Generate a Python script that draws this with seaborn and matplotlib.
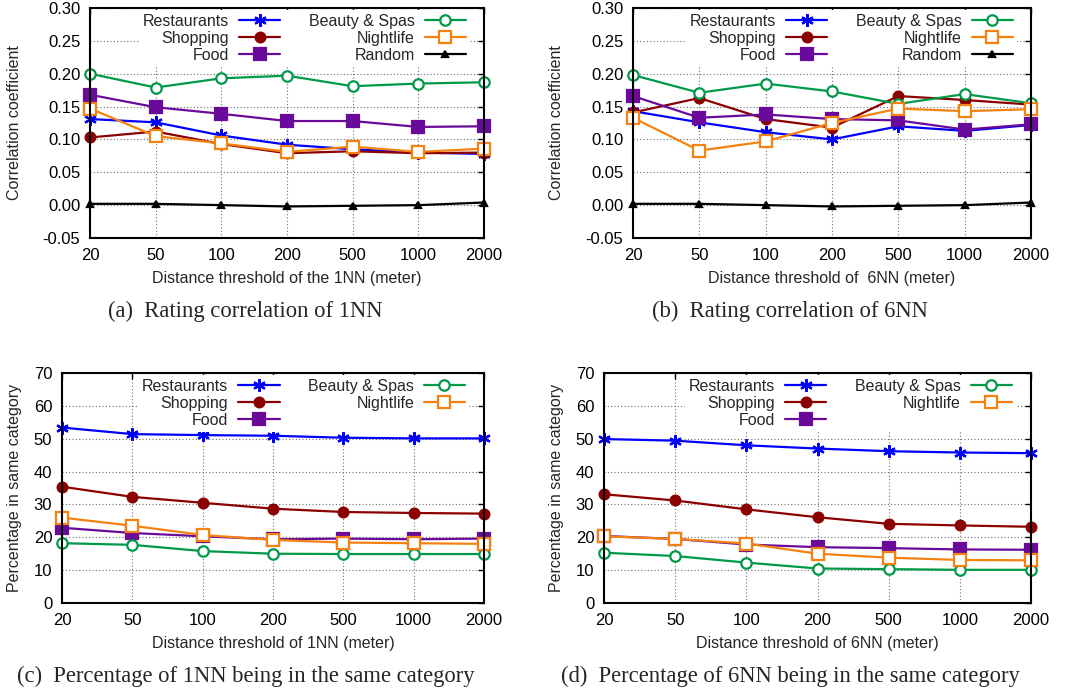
import matplotlib
matplotlib.use("Agg")
import matplotlib.pyplot as plt
import numpy as np
import seaborn as sns

# distance thresholds (meter)
thresholds = [20, 50, 100, 200, 500, 1000, 2000]

# (a) rating correlation of 1NN
a_restaurants = [0.131, 0.126, 0.106, 0.092, 0.085, 0.080, 0.078]
a_shopping = [0.103, 0.112, 0.093, 0.079, 0.082, 0.079, 0.080]
a_food = [0.168, 0.149, 0.139, 0.128, 0.128, 0.119, 0.120]
a_beauty = [0.200, 0.179, 0.193, 0.197, 0.181, 0.185, 0.187]
a_nightlife = [0.147, 0.105, 0.094, 0.081, 0.089, 0.081, 0.086]
a_random = [0.002, 0.002, 0.000, -0.002, -0.001, 0.000, 0.004]

# (b) rating correlation of 6NN
b_restaurants = [0.143, 0.126, 0.111, 0.100, 0.120, 0.113, 0.122]
b_shopping = [0.141, 0.163, 0.131, 0.118, 0.166, 0.160, 0.153]
b_food = [0.166, 0.133, 0.138, 0.131, 0.129, 0.115, 0.123]
b_beauty = [0.198, 0.171, 0.185, 0.173, 0.154, 0.169, 0.155]
b_nightlife = [0.133, 0.083, 0.097, 0.125, 0.147, 0.143, 0.146]
b_random = [0.002, 0.002, 0.000, -0.002, -0.001, 0.000, 0.004]

# (c) percentage of 1NN in same category
c_restaurants = [53.4, 51.4, 51.1, 50.9, 50.3, 50.1, 50.1]
c_shopping = [35.4, 32.3, 30.5, 28.7, 27.7, 27.4, 27.2]
c_food = [22.9, 21.3, 20.3, 19.4, 19.6, 19.4, 19.6]
c_beauty = [18.2, 17.7, 15.8, 15.0, 14.9, 14.9, 14.9]
c_nightlife = [26.0, 23.5, 20.7, 19.2, 18.4, 18.2, 18.0]

# (d) percentage of 6NN in same category
d_restaurants = [49.9, 49.4, 48.0, 47.0, 46.2, 45.8, 45.6]
d_shopping = [33.1, 31.2, 28.5, 26.1, 24.1, 23.6, 23.2]
d_food = [20.4, 19.5, 17.8, 17.0, 16.7, 16.3, 16.2]
d_beauty = [15.3, 14.3, 12.3, 10.5, 10.3, 10.1, 10.1]
d_nightlife = [20.3, 19.5, 18.1, 15.0, 13.8, 13.1, 13.0]

names = ["Restaurants", "Shopping", "Food", "Beauty & Spas", "Nightlife", "Random"]
colors = ["#0000ff", "#8b0000", "#6a0a9a", "#00994a", "#f58210", "#000000"]
markers = [(6, 2, 0), "o", "s", "o", "s", "^"]
msizes = [9, 7, 8, 7.5, 8, 5]
filled = [True, True, True, False, False, True]

sns.set_style("white")
plt.rcParams["font.family"] = ["Liberation Sans", "DejaVu Sans"]

fig = plt.figure(figsize=(10.65, 6.91), dpi=100)


def panel(rect, series, ylim, yticks, yfmt, ylabel, ylab_x, xlabel, caption, cap_xy):
    ax = fig.add_axes(rect)
    xpos = np.arange(len(thresholds))
    for i, vals in enumerate(series):
        sns.lineplot(x=xpos, y=vals, ax=ax, color=colors[i], marker=markers[i],
                     markersize=msizes[i], linewidth=1.6,
                     markerfacecolor=colors[i] if filled[i] else "white",
                     markeredgecolor=colors[i], markeredgewidth=1.6,
                     label=names[i], zorder=3, clip_on=False)
    ax.set_xlim(0, len(thresholds) - 1)
    ax.set_ylim(*ylim)
    ax.set_xticks(xpos)
    ax.set_xticklabels([str(t) for t in thresholds])
    ax.set_yticks(yticks)
    ax.set_yticklabels([yfmt.format(v) for v in yticks])
    ax.tick_params(direction="in", length=4, width=1, top=True, right=True,
                   labelsize=12, colors="black", pad=7)
    ax.grid(True, color="#707070", linestyle=(0, (1, 2)), linewidth=0.8)
    for s in ax.spines.values():
        s.set_color("black")
        s.set_linewidth(1.5)
        s.set_zorder(4)
    ax.set_xlabel(xlabel, fontsize=11.5, labelpad=6)
    ax.set_ylabel(ylabel, fontsize=11.5)
    ax.yaxis.set_label_coords(ylab_x, 0.5)
    leg = ax.legend(ncol=2, loc="upper right", bbox_to_anchor=(0.965, 0.992),
                    markerfirst=False, frameon=True, framealpha=1,
                    facecolor="white", edgecolor="none", fancybox=False,
                    fontsize=11.5, handlelength=2.6, handletextpad=0.6,
                    columnspacing=1.8, labelspacing=0.12, borderpad=0.25,
                    borderaxespad=0.0)
    leg.set_zorder(5)
    fig.text(cap_xy[0], cap_xy[1], caption, ha="center", va="center",
             fontsize=16.3, family=["Liberation Serif", "DejaVu Serif"])
    return ax


corr_ticks = [-0.05, 0.0, 0.05, 0.10, 0.15, 0.20, 0.25, 0.30]
pct_ticks = [0, 10, 20, 30, 40, 50, 60, 70]

panel([90 / 1065, 1 - 238 / 691, 394 / 1065, 230 / 691],
      [a_restaurants, a_shopping, a_food, a_beauty, a_nightlife, a_random],
      (-0.05, 0.30), corr_ticks, "{:.2f}", "Correlation coefficient", -0.173,
      "Distance threshold of the 1NN (meter)",
      "(a)  Rating correlation of 1NN", (245 / 1065, 1 - 311 / 691))

panel([633 / 1065, 1 - 238 / 691, 398 / 1065, 230 / 691],
      [b_restaurants, b_shopping, b_food, b_beauty, b_nightlife, b_random],
      (-0.05, 0.30), corr_ticks, "{:.2f}", "Correlation coefficient", -0.173,
      "Distance threshold of  6NN (meter)",
      "(b)  Rating correlation of 6NN", (790 / 1065, 1 - 311 / 691))

panel([62 / 1065, 1 - 603 / 691, 422 / 1065, 230 / 691],
      [c_restaurants, c_shopping, c_food, c_beauty, c_nightlife],
      (0, 70), pct_ticks, "{:d}", "Percentage in same category", -0.095,
      "Distance threshold of 1NN (meter)",
      "(c)  Percentage of 1NN being in the same category", (246 / 1065, 1 - 676 / 691))

panel([604 / 1065, 1 - 603 / 691, 427 / 1065, 230 / 691],
      [d_restaurants, d_shopping, d_food, d_beauty, d_nightlife],
      (0, 70), pct_ticks, "{:d}", "Percentage in same category", -0.094,
      "Distance threshold of 6NN (meter)",
      "(d)  Percentage of 6NN being in the same category", (790 / 1065, 1 - 676 / 691))

fig.savefig("out.png", dpi=100)
